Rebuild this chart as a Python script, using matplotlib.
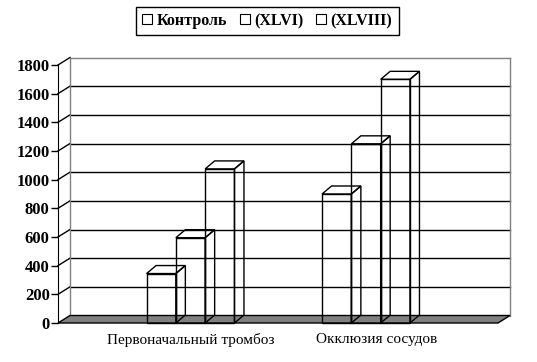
import numpy as np
import matplotlib.pyplot as plt
from matplotlib.patches import Polygon, Rectangle, Patch

categories = ["Первоначальный тромбоз", "Окклюзия сосудов"]
series_names = ["Контроль", "(XLVI)", "(XLVIII)"]
control = [345, 900]
xlvi = [595, 1250]
xlviii = [1075, 1700]
y_ticks = [0, 200, 400, 600, 800, 1000, 1200, 1400, 1600, 1800]

plt.rcParams['font.family'] = ['Liberation Serif', 'DejaVu Serif']

W, H = 537, 362
fig = plt.figure(figsize=(W / 100, H / 100), dpi=100)
ax = fig.add_axes([58 / W, 39 / H, 440 / W, 258 / H])

x0, x1 = -0.755, 1.752
ax.set_xlim(x0, x1)
ax.set_ylim(0, 1800)

# pixels per data unit, to turn the 3d depth offsets into data units
ux = 440 / (x1 - x0)
uy = 258 / 1800
wall_dx, wall_dy = 12 / ux, 7.5 / uy
bar_dx, bar_dy = 9.5 / ux, 8 / uy
bw = 29.3 / ux

gray = '#808080'

# back wall: grid lines and diagonal links to the front axis
for v in y_ticks[1:]:
    c = 'black' if v < 1800 else gray
    ax.plot([x0 + wall_dx, x1 + wall_dx], [v + wall_dy] * 2, color=c, lw=1, clip_on=False, zorder=1)
    ax.plot([x0, x0 + wall_dx], [v, v + wall_dy], color='black', lw=1, clip_on=False, zorder=1)
for xx in (x0 + wall_dx, x1 + wall_dx):
    ax.plot([xx, xx], [wall_dy, 1800 + wall_dy], color=gray, lw=1, clip_on=False, zorder=1)

# floor
floor = Polygon([(x0, 0), (x1, 0), (x1 + wall_dx, wall_dy), (x0 + wall_dx, wall_dy)],
                closed=True, facecolor=gray, edgecolor='black', lw=1, clip_on=False, zorder=2)
ax.add_patch(floor)

# bars (wire-frame look, no fill)
for i, vals in enumerate([control, xlvi, xlviii]):
    for j, v in enumerate(vals):
        left = j - 1.5 * bw + i * bw
        kw = dict(facecolor='none', edgecolor='black', lw=1, clip_on=False, zorder=3)
        ax.add_patch(Rectangle((left, 0), bw, v, **kw))
        ax.add_patch(Polygon([(left, v), (left + bw, v), (left + bw + bar_dx, v + bar_dy),
                              (left + bar_dx, v + bar_dy)], closed=True, **kw))
        ax.add_patch(Polygon([(left + bw, 0), (left + bw + bar_dx, bar_dy),
                              (left + bw + bar_dx, v + bar_dy), (left + bw, v)], closed=True, **kw))

ax.set_yticks(y_ticks)
ax.set_yticklabels([str(t) for t in y_ticks], fontsize=12, fontweight='bold')
ax.tick_params(axis='y', direction='out', length=5, width=1, pad=1, colors='black')
ax.set_xticks([])
for s in ['top', 'right', 'bottom']:
    ax.spines[s].set_visible(False)
ax.spines['left'].set_color('black')
ax.patch.set_alpha(0)

label_shift = [0, 11]  # pixels, Excel centres the second label a bit to the right
for j, name in enumerate(categories):
    ax.annotate(name, xy=(j, 0), xytext=(label_shift[j], -10), textcoords='offset pixels',
                ha='center', va='top', fontsize=11)

handles = [Patch(facecolor='white', edgecolor='black', lw=0.8) for _ in series_names]
leg = fig.legend(handles, series_names, loc='center', bbox_to_anchor=(0.498, 0.942), ncol=3,
                 frameon=True, fancybox=False, edgecolor='black', framealpha=1,
                 handlelength=0.6, handleheight=0.6, handletextpad=0.3, columnspacing=0.8,
                 borderpad=0.4, prop={'weight': 'bold', 'size': 11.5})
leg.get_frame().set_linewidth(1)

fig.savefig('out.png', dpi=100)
